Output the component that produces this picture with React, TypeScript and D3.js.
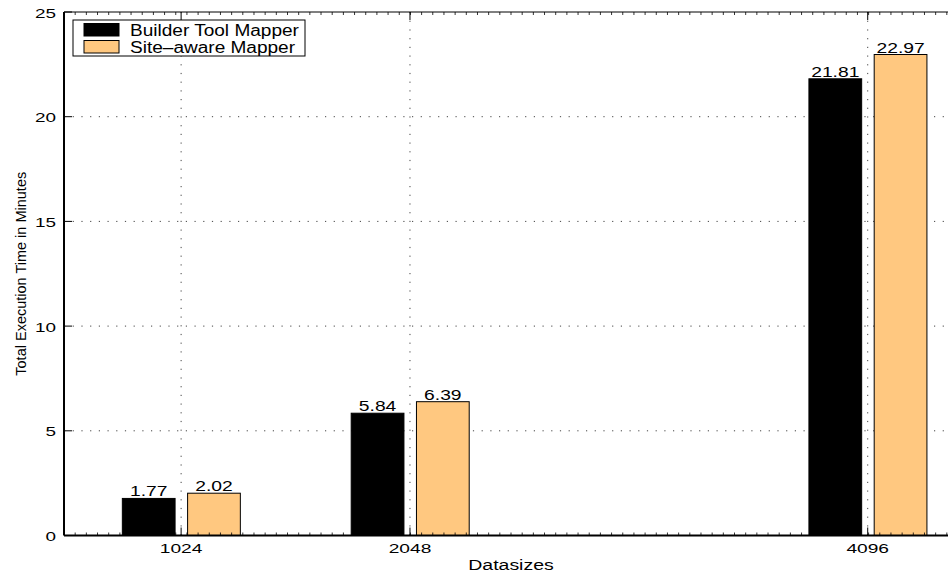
import React from 'react';
import * as d3 from 'd3';

// data sizes on the x axis and total times (minutes) per mapper
const datasizes = [1024, 2048, 4096];
const builderTimes = [1.77, 5.84, 21.81];
const siteAwareTimes = [2.02, 6.39, 22.97];
const seriesNames = ['Builder Tool Mapper', 'Site\u2013aware Mapper'];
const yTicks = [0, 5, 10, 15, 20, 25];

const width = 948;
const height = 576;
const margin = { left: 64, top: 12, right: 958, bottom: 535.5 };
const FONT = 'Liberation Sans, Arial, Helvetica, sans-serif';
const orange = '#ffc880';

const x = d3.scaleLinear().domain([500, 4500]).range([margin.left, margin.right]);
const y = d3.scaleLinear().domain([0, 25]).range([margin.bottom, margin.top]);

// bar geometry in data units around each datasize
const barW = 236;
const barGap = 27;

// glyphs in the reference look stretched sideways, so text gets a horizontal scale
const T = ({ x, y, size, sx = 1.3, anchor = 'middle', children }: any) => (
  <text
    transform={`translate(${x},${y}) scale(${sx},1)`}
    fontSize={size}
    textAnchor={anchor}
    fontFamily={FONT}
    fill="#000"
  >
    {children}
  </text>
);

export default function App() {
  const minor = d3.range(550, 4500, 50);
  const series = [
    { values: builderTimes, color: '#000', x0: (d: number) => d - barGap - barW },
    { values: siteAwareTimes, color: orange, x0: (d: number) => d + barGap + 2 }
  ];

  return (
    <svg width={width} height={height} style={{ position: 'absolute', left: 0, top: 0 }}>
      <rect x={0} y={0} width={width} height={height} fill="#fff" />

      {/* dotted grid */}
      <g stroke="#444" strokeWidth={1} strokeDasharray="1.2,7.5">
        {datasizes.map(d => (
          <line key={'gx' + d} x1={x(d)} x2={x(d)} y1={margin.top} y2={margin.bottom} />
        ))}
        {yTicks.slice(1, -1).map(t => (
          <line key={'gy' + t} x1={margin.left} x2={margin.right} y1={y(t)} y2={y(t)} />
        ))}
      </g>

      {/* bars */}
      {series.map((s, si) =>
        datasizes.map((d, i) => {
          const x0 = x(s.x0(d));
          const x1 = x(s.x0(d) + barW);
          const top = y(s.values[i]);
          return (
            <g key={si + '-' + d}>
              <rect
                x={x0}
                y={top}
                width={x1 - x0}
                height={y(0) - top}
                fill={s.color}
                stroke="#000"
                strokeWidth={1}
              />
              <T x={(x0 + x1) / 2} y={top - 2} size={14.5} sx={1.33}>
                {s.values[i].toFixed(2)}
              </T>
            </g>
          );
        })
      )}

      {/* axes box */}
      <g stroke="#000" fill="none">
        <line x1={margin.left} x2={margin.right} y1={margin.bottom} y2={margin.bottom} strokeWidth={2} />
        <line x1={margin.left} x2={margin.right} y1={margin.top} y2={margin.top} strokeWidth={1} />
        <line x1={margin.left} x2={margin.left} y1={margin.top} y2={margin.bottom} strokeWidth={2} />
        {minor.map(m => (
          <g key={'m' + m}>
            <line x1={x(m)} x2={x(m)} y1={margin.bottom} y2={margin.bottom - 3} strokeWidth={0.8} />
            <line x1={x(m)} x2={x(m)} y1={margin.top} y2={margin.top + 3} strokeWidth={0.8} />
          </g>
        ))}
        {datasizes.map(d => (
          <g key={'t' + d}>
            <line x1={x(d)} x2={x(d)} y1={margin.bottom} y2={margin.bottom - 8} strokeWidth={1} />
            <line x1={x(d)} x2={x(d)} y1={margin.top} y2={margin.top + 8} strokeWidth={1} />
          </g>
        ))}
        {yTicks.map(t => (
          <line key={'yt' + t} x1={margin.left} x2={margin.left + 8} y1={y(t)} y2={y(t)} strokeWidth={1} />
        ))}
      </g>

      {/* tick labels */}
      {yTicks.map(t => (
        <T key={'yl' + t} x={56} y={y(t) + 5.5} size={13.5} sx={1.4} anchor="end">
          {t}
        </T>
      ))}
      {datasizes.map(d => (
        <T key={'xl' + d} x={x(d)} y={553} size={13.5} sx={1.42}>
          {d}
        </T>
      ))}

      <T x={(margin.left + margin.right) / 2} y={570} size={15} sx={1.3}>
        Datasizes
      </T>
      <text
        transform={`translate(26,${(margin.top + margin.bottom) / 2}) rotate(-90)`}
        fontSize={14.5}
        textAnchor="middle"
        fontFamily={FONT}
      >
        Total Execution Time in Minutes
      </text>

      {/* legend */}
      <g>
        <rect x={73} y={20} width={232} height={36} fill="#fff" stroke="#000" strokeWidth={1} />
        {seriesNames.map((name, i) => (
          <g key={name}>
            <rect
              x={84}
              y={23.5 + i * 17}
              width={35}
              height={12.5}
              fill={i === 0 ? '#000' : orange}
              stroke="#000"
              strokeWidth={1}
            />
            <T x={130} y={35.8 + i * 17} size={16} sx={1.19} anchor="start">
              {name}
            </T>
          </g>
        ))}
      </g>
    </svg>
  );
}
